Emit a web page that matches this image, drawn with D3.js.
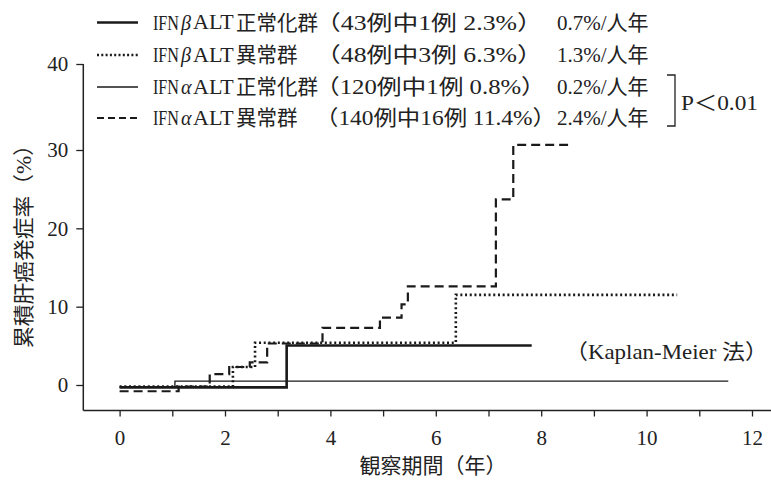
<!DOCTYPE html>
<html><head><meta charset="utf-8">
<script src="https://cdn.jsdelivr.net/npm/d3@7"></script>
<style>
html,body{margin:0;padding:0;background:#fff;}
svg{display:block;}
text{font-family:"Liberation Serif","Noto Sans CJK JP",serif;fill:#222;}
</style></head>
<body>
<svg id="chart" width="771" height="481"></svg>
<script>
// ---- data ----
const xTicks = [0,1,2,3,4,5,6,7,8,9,10,11,12];
const xTickLabels = [0,2,4,6,8,10,12];
const yTicks = [0,10,20,30,40];

const betaNormalTimes   = [0, 3.17, 7.82];
const betaNormalRates   = [-0.3, 5.05, 5.05];

const betaAbnormalTimes = [0, 2.15, 2.57, 6.38, 10.58];
const betaAbnormalRates = [-0.2, 2.3, 5.4, 11.5, 11.5];

const alphaNormalTimes  = [0, 1.05, 11.55];
const alphaNormalRates  = [-0.3, 0.5, 0.5];

const alphaAbnormalTimes = [0, 1.12, 1.71, 2.08, 2.47, 2.8, 3.85, 4.94, 5.35, 5.47, 7.14, 7.47, 8.51];
const alphaAbnormalRates = [-0.8, -0.2, 1.4, 2.3, 2.9, 5.3, 7.3, 8.6, 10.3, 12.6, 23.7, 30.6, 30.6];

const legendGreek   = ["β","β","α","α"];
const legendGroup   = ["正常化群","異常群","正常化群","異常群"];
const legendCounts  = ["（43例中1例 2.3%）","（48例中3例 6.3%）","（120例中1例 0.8%）","（140例中16例 11.4%）"];
const legendRates   = ["0.7%/人年","1.3%/人年","0.2%/人年","2.4%/人年"];
const pValueLabel   = "P＜0.01";
const yTitle = "累積肝癌発症率（%）";
const xTitle = "観察期間（年）";
const methodNote = "（Kaplan-Meier 法）";

// ---- drawing ----
const svg = d3.select("#chart");
const x = d3.scaleLinear().domain([0,12]).range([119.6,752]);
const y = d3.scaleLinear().domain([0,30,40]).range([385,150,64]);

const axisX0 = 83.3, axisY0 = 410.5;

// y axis
const gy = svg.append("g").attr("transform",`translate(${axisX0},0)`)
  .call(d3.axisLeft(y).tickValues(yTicks).tickSize(7).tickPadding(8).tickSizeOuter(0));
gy.select(".domain").remove();
gy.selectAll(".tick line").attr("stroke","#222").attr("stroke-width",1.3);
gy.selectAll(".tick text").attr("font-size",21).attr("fill","#222")
  .attr("font-family","Liberation Serif, serif");
svg.append("line").attr("x1",axisX0).attr("x2",axisX0).attr("y1",y(40)).attr("y2",axisY0)
  .attr("stroke","#222").attr("stroke-width",1.5);

// x axis
const gx = svg.append("g").attr("transform",`translate(0,${axisY0})`)
  .call(d3.axisBottom(x).tickValues(xTicks).tickSize(6).tickPadding(14).tickSizeOuter(0)
    .tickFormat(d => xTickLabels.includes(d) ? d : ""));
gx.select(".domain").remove();
gx.selectAll(".tick line").attr("stroke","#222").attr("stroke-width",1.3);
gx.selectAll(".tick text").attr("font-size",21).attr("fill","#222")
  .attr("font-family","Liberation Serif, serif");
svg.append("line").attr("x1",axisX0).attr("x2",771).attr("y1",axisY0).attr("y2",axisY0)
  .attr("stroke","#222").attr("stroke-width",1.6);

// text helper: draw at natural size, then stretch horizontally to a target width
function fitText(s, x0, yc, target, opts){
  opts = opts || {};
  const g = svg.append("g");
  const t = g.append("text").attr("x",0).attr("y",0).attr("dominant-baseline","central")
    .attr("font-size",opts.size||21).text(s);
  if(opts.italic) t.attr("font-style","italic");
  const w = t.node().getBBox().width || 1;
  const k = target ? target/w : 1;
  const rot = opts.rotate ? ` rotate(${opts.rotate})` : "";
  g.attr("transform",`translate(${x0},${yc})${rot} scale(${k},1)`);
  return t;
}

// axis titles
fitText(yTitle, 24, 348, 214, {rotate:-90});
svg.append("text").attr("x",433).attr("y",466)
  .attr("text-anchor","middle").attr("dominant-baseline","central")
  .attr("font-size",21).text(xTitle);

// series
const series = [
  {t:betaNormalTimes, v:betaNormalRates, w:2.6, dash:null},
  {t:betaAbnormalTimes, v:betaAbnormalRates, w:2.6, dash:"2,2.7"},
  {t:alphaNormalTimes, v:alphaNormalRates, w:1.3, dash:null},
  {t:alphaAbnormalTimes, v:alphaAbnormalRates, w:2.2, dash:"9,5"}
];
const line = d3.line().x(d=>x(d[0])).y(d=>y(d[1])).curve(d3.curveStepAfter);
series.forEach(s=>{
  const pts = s.t.map((t,i)=>[t,s.v[i]]);
  const p = svg.append("path").attr("d",line(pts)).attr("fill","none")
    .attr("stroke","#1a1a1a").attr("stroke-width",s.w);
  if(s.dash) p.attr("stroke-dasharray",s.dash);
});

// legend
const rowY = [22.5,55,87,118];
const legDash = [null,"2,2.3",null,"7,4"];
const legW = [2.6,2.6,1.3,2.2];
const countsW = [228,228,231,241];
rowY.forEach((ry,i)=>{
  const l = svg.append("line").attr("x1",97).attr("x2",138).attr("y1",ry).attr("y2",ry)
    .attr("stroke","#1a1a1a").attr("stroke-width",legW[i]);
  if(legDash[i]) l.attr("stroke-dasharray",legDash[i]);
  fitText("IFN", 153, ry, 26);
  fitText(legendGreek[i], 181, ry, 0, {italic:true, size:20});
  fitText("ALT", 193, ry, 41);
  fitText(legendGroup[i], 236, ry, legendGroup[i].length*20.5);
  fitText(legendCounts[i], 315, ry, countsW[i]);
  fitText(legendRates[i], 557, ry, 0);
});
// p-value bracket
svg.append("path").attr("d",`M667,${rowY[2]-12}H675V${rowY[3]+8}H667`)
  .attr("fill","none").attr("stroke","#222").attr("stroke-width",1.3);
fitText(pValueLabel, 681, (rowY[2]+rowY[3])/2, 77);

// method note
fitText(methodNote, 565, 352, 203);
</script>
</body></html>
